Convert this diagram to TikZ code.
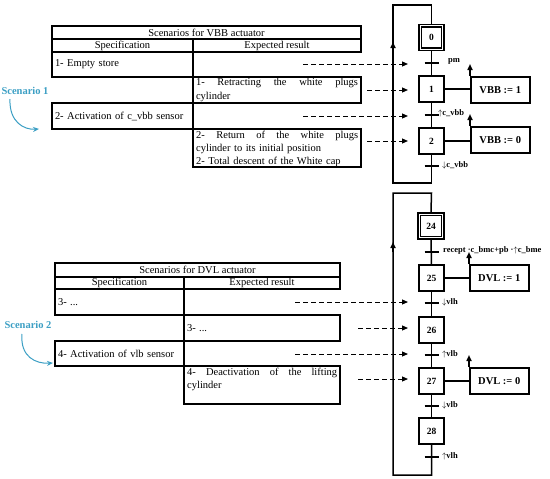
\documentclass[tikz,border=0pt]{standalone}
\usepackage{fontspec}
\setmainfont{Liberation Serif}
\usetikzlibrary{arrows.meta}
\definecolor{scen}{HTML}{3C9FC4}
\begin{document}
\begin{tikzpicture}[x=1pt,y=-1pt,
  tfont/.style={font=\fontsize{10.5}{13.5}\selectfont},
  cell/.style={draw, line width=1.6pt, inner sep=0pt, outer sep=0pt, anchor=north west, tfont},
  lcell/.style={cell, inner xsep=3pt, align=left},
  gstep/.style={draw, line width=1.5pt, minimum width=25pt, minimum height=26pt, inner sep=0pt, font=\bfseries\fontsize{9.5}{10}\selectfont},
  action/.style={draw, line width=1.5pt, minimum width=59pt, minimum height=26pt, inner sep=0pt, anchor=north west, font=\bfseries\fontsize{10.5}{12}\selectfont},
  glin/.style={line width=1.5pt},
  tick/.style={line width=1.5pt},
  tlab/.style={anchor=west, inner sep=0pt, font=\bfseries\fontsize{8.5}{9}\selectfont},
  dasharrow/.style={line width=1pt, dash pattern=on 5pt off 3pt, -{Triangle[length=6pt,width=5pt]}},
  uparrow/.style={line width=1.5pt, -{Triangle[length=6pt,width=5pt]}},
  scentext/.style={font=\bfseries\fontsize{10.5}{12}\selectfont, text=scen},
  scenarrow/.style={scen, line width=1pt, -{Stealth[length=6pt,width=5pt]}}
]
\useasboundingbox (0,0) rectangle (550,479);

% ================= TOP TABLE =================
\node[cell, minimum width=309pt, minimum height=13pt] (t1title) at (52,26) {Scenarios for VBB actuator};
\node[cell, minimum width=141pt, minimum height=13pt] (t1hs) at (52,39) {Specification};
\node[cell, minimum width=168pt, minimum height=13pt] (t1he) at (193,39) {Expected result};
\node[lcell, text width=135pt, minimum height=25pt] (t1s1) at (52,52) {1- Empty store};
\node[lcell, text width=162pt, minimum height=26pt] (t1e2) at (193,77) {1-\hfill Retracting\hfill the\hfill white\hfill plugs\\cylinder};
\node[lcell, text width=135pt, minimum height=26pt] (t1s3) at (52,103) {2- Activation of c\_vbb sensor};
\node[cell, minimum width=168pt, minimum height=38pt] (t1e4) at (193,129) {};
\node[anchor=north west, inner sep=0pt, text width=162pt, align=left, font=\fontsize{10.5}{13}\selectfont] (t1e4t) at ([shift={(3pt,-1.5pt)}]t1e4.north west) {2-\hfill Return\hfill of\hfill the\hfill white\hfill plugs\\cylinder to its initial position\\2- Total descent of the White cap};

% ================= TOP GRAFCET =================
\node[gstep, minimum width=25pt] (s0) at (431.5,37.5) {0};
\draw[line width=1.5pt] ([shift={(3.2pt,-3.2pt)}]s0.north west) rectangle ([shift={(-3.2pt,3.2pt)}]s0.south east);
\node[gstep] (s1) at (431.5,89) {1};
\node[gstep] (s2) at (431.5,141) {2};
\node[action] (a1) at (470,76) {VBB := 1};
\node[action] (a2) at (470,126) {VBB := 0};

\coordinate (tp0) at (431.5,63);
\coordinate (tp1) at (431.5,115);
\coordinate (tp2) at (431.5,166);
\coordinate (lt1) at (431.5,5);
\coordinate (ltl1) at (393,5);
\coordinate (lbl1) at (393,183);
\coordinate (lb1) at (431.5,183);

\draw[glin] (s0) -- (s1);
\draw[glin] (s1) -- (s2);
\draw[glin] (s2.south) -- (lb1) -- (lbl1) -- (ltl1) -- (lt1) -- (s0.north);
\draw[uparrow] (393,52) -- (393,42);

\draw[tick] ([xshift=-7pt]tp0) -- ([xshift=7pt]tp0);
\draw[tick] ([xshift=-7pt]tp1) -- ([xshift=7pt]tp1);
\draw[tick] ([xshift=-7pt]tp2) -- ([xshift=7pt]tp2);
\node[tlab] (l0) at (448,61) {pm};
\node[tlab] (l1) at (438,113) {$\uparrow$c\_vbb};
\node[tlab] (l2) at (442,165) {$\downarrow$c\_vbb};

\draw[glin] (s1.east) -- (s1.east -| a1.west);
\draw[glin] (s2.east) -- (s2.east -| a2.west);
\draw[uparrow] (a1.north west) -- ++(0,-12);
\draw[uparrow] (a2.north west) -- ++(0,-12);

% dashed arrows top
\coordinate (d1a) at (303,64);  \coordinate (d1b) at (408,64);
\coordinate (d2a) at (367,90);  \coordinate (d2b) at (408,90);
\coordinate (d3a) at (303,116); \coordinate (d3b) at (408,116);
\coordinate (d4a) at (367,141); \coordinate (d4b) at (408,141);
\draw[dasharrow] (d1a) -- (d1b);
\draw[dasharrow] (d2a) -- (d2b);
\draw[dasharrow] (d3a) -- (d3b);
\draw[dasharrow] (d4a) -- (d4b);

% scenario 1
\node[scentext] (sc1) at (25,91) {Scenario 1};
\draw[scenarrow] (10,99) .. controls (9,122) and (24,130) .. (39,129);

% ================= BOTTOM TABLE =================
\node[cell, minimum width=285pt, minimum height=14pt] (t2title) at (55,263) {Scenarios for DVL actuator};
\node[cell, minimum width=129pt, minimum height=12pt] (t2hs) at (55,277) {Specification};
\node[cell, minimum width=156pt, minimum height=12pt] (t2he) at (184,277) {Expected result};
\node[lcell, text width=123pt, minimum height=26pt] (t2s1) at (55,289) {3- ...};
\node[lcell, text width=150pt, minimum height=26pt] (t2e2) at (184,315) {3- ...};
\node[lcell, text width=123pt, minimum height=25pt] (t2s3) at (55,341) {4- Activation of vlb sensor};
\node[cell, minimum width=156pt, minimum height=38pt] (t2e4) at (184,366) {};
\node[anchor=north west, inner sep=0pt, text width=150pt, align=left, font=\fontsize{10.5}{13}\selectfont] (t2e4t) at ([shift={(3pt,-1.5pt)}]t2e4.north west) {4-\hfill Deactivation\hfill of\hfill the\hfill lifting\\cylinder};

% ================= BOTTOM GRAFCET =================
\node[gstep, minimum width=26pt] (s24) at (431,226) {24};
\draw[line width=1.5pt] ([shift={(3.2pt,-3.2pt)}]s24.north west) rectangle ([shift={(-3.2pt,3.2pt)}]s24.south east);
\node[gstep] (s25) at (431.5,278) {25};
\node[gstep] (s26) at (431.5,330) {26};
\node[gstep] (s27) at (431.5,381) {27};
\node[gstep] (s28) at (431.5,431) {28};
\node[action] (a25) at (469,264) {DVL := 1};
\node[action] (a27) at (469,367) {DVL := 0};

\coordinate (tq0) at (431.5,252);
\coordinate (tq1) at (431.5,303);
\coordinate (tq2) at (431.5,355);
\coordinate (tq3) at (431.5,406);
\coordinate (tq4) at (431.5,457);
\coordinate (lt2) at (431.5,193);
\coordinate (ltl2) at (393,193);
\coordinate (lbl2) at (393,475);
\coordinate (lb2) at (431.5,475);

\draw[glin] (s24) -- (s25);
\draw[glin] (s25) -- (s26);
\draw[glin] (s26) -- (s27);
\draw[glin] (s27) -- (s28);
\draw[glin] (s28.south) -- (lb2) -- (lbl2) -- (ltl2) -- (lt2) -- (s24.north);
\draw[uparrow] (393,252) -- (393,242);

\foreach \t in {tq0,tq1,tq2,tq3,tq4}
  \draw[tick] ([xshift=-7pt]\t) -- ([xshift=7pt]\t);
\node[tlab] (m0) at (443,250) {recept ·c\_bmc+pb ·$\uparrow$c\_bme};
\node[tlab] (m1) at (442,302) {$\downarrow$vlh};
\node[tlab] (m2) at (442,354) {$\uparrow$vlb};
\node[tlab] (m3) at (442,405) {$\downarrow$vlb};
\node[tlab] (m4) at (442,456) {$\uparrow$vlh};

\draw[glin] (s25.east) -- (s25.east -| a25.west);
\draw[glin] (s27.east) -- (s27.east -| a27.west);
\draw[uparrow] (a25.north west) -- ++(0,-12);
\draw[uparrow] (a27.north west) -- ++(0,-12);

% dashed arrows bottom
\coordinate (e1a) at (295,302); \coordinate (e1b) at (408,302);
\coordinate (e2a) at (358,328); \coordinate (e2b) at (408,328);
\coordinate (e3a) at (295,354); \coordinate (e3b) at (408,354);
\coordinate (e4a) at (358,379); \coordinate (e4b) at (408,379);
\draw[dasharrow] (e1a) -- (e1b);
\draw[dasharrow] (e2a) -- (e2b);
\draw[dasharrow] (e3a) -- (e3b);
\draw[dasharrow] (e4a) -- (e4b);

% scenario 2
\node[scentext] (sc2) at (28,325) {Scenario 2};
\draw[scenarrow] (22,334) .. controls (20,357) and (36,364) .. (53,363);
\end{tikzpicture}
\end{document}
